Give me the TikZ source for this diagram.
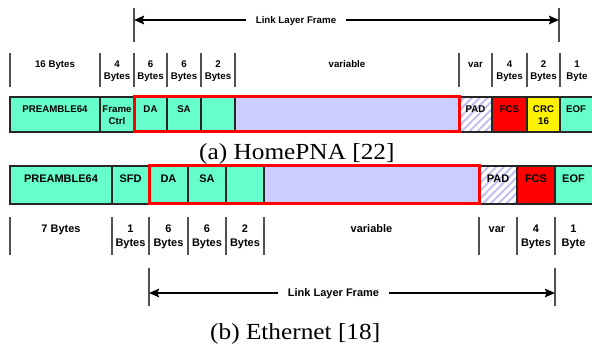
\documentclass[tikz,border=0pt]{standalone}
\usepackage{fontspec}
\setmainfont{Liberation Serif}
\setsansfont{Liberation Sans}
\newfontfamily\capfont[FakeStretch=1.1]{Liberation Serif}
\usetikzlibrary{arrows.meta,patterns.meta}

\definecolor{aqua}{HTML}{66FFCC}
\definecolor{lav}{HTML}{CCCCFF}
\definecolor{hatch}{HTML}{BDBDF2}
\definecolor{tickgray}{HTML}{505050}

% one field of a frame: name, left, right, top, bottom, extra style
\newcommand\fieldbox[6]{%
  \node[cell,#6,minimum width={(#3)-(#2)},minimum height={(#5)-(#4)}] (#1) at (#2,#4) {};}

\tikzset{
  cell/.style={draw=black!85, inner sep=0pt, outer sep=0pt, anchor=north west},
  cellA/.style={cell, line width=1.7pt},
  cellB/.style={cell, line width=1.8pt},
  padfill/.style={pattern={Lines[angle=45,distance=5.5pt,line width=1.9pt]}, pattern color=hatch},
  fA/.style={font=\sffamily\bfseries\fontsize{9.7}{12.5}\selectfont, inner sep=0pt, align=center},
  fB/.style={font=\sffamily\bfseries\fontsize{11}{14}\selectfont, inner sep=0pt, align=center},
  redA/.style={draw=red, line width=3pt},
  redB/.style={draw=red, line width=3pt},
  tick/.style={draw=tickgray, line width=1.1pt},
  arr/.style={draw=black, line width=2pt, -{Stealth[length=10pt,width=8.5pt,inset=1.5pt]}},
  llf/.style={inner xsep=9.5pt, inner ysep=0pt, text height=7pt, text depth=0pt},
  capstyle/.style={font=\capfont\fontsize{23}{26}\selectfont, inner sep=0pt, anchor=base west},
}

\begin{document}
\begin{tikzpicture}[x=1pt, y=-1pt]
\clip (0,0) rectangle (592,352);

% ---------------- (a) HomePNA ----------------
% link layer frame span
\draw[tick] (134,8) -- (134,42);
\draw[tick] (559,8) -- (559,42);
\coordinate (lAl) at (134,20);
\coordinate (lAr) at (559,20);
\node[fA, llf] (llA) at (296,20) {Link Layer Frame};
\draw[arr] (llA.west) -- (lAl);
\draw[arr] (llA.east) -- (lAr);

% field sizes
\foreach \x in {10,100,134,167,201,235,459,492,527,560}
  \draw[tick] (\x,53) -- (\x,87);
\node[fA, anchor=base]  (szA1) at (55,67.5)    {16 Bytes};
\node[fA, anchor=north] (szA2) at (117,60.5)   {4\\Bytes};
\node[fA, anchor=north] (szA3) at (150.5,60.5) {6\\Bytes};
\node[fA, anchor=north] (szA4) at (184,60.5)   {6\\Bytes};
\node[fA, anchor=north] (szA5) at (218,60.5)   {2\\Bytes};
\node[fA, anchor=base]  (szA6) at (347,67.5)   {variable};
\node[fA, anchor=base]  (szA7) at (475.5,67.5) {var};
\node[fA, anchor=north] (szA8) at (509.5,60.5) {4\\Bytes};
\node[fA, anchor=north] (szA9) at (543.5,60.5) {2\\Bytes};
\node[fA, anchor=north] (szA10) at (577,60.5)  {1\\Byte};

% fields
\fieldbox{preA}{10}{100}{97}{132}{cellA,fill=aqua}
\fieldbox{fcA}{100}{134}{97}{132}{cellA,fill=aqua}
\fieldbox{daA}{134}{167}{97}{132}{cellA,fill=aqua}
\fieldbox{saA}{167}{201}{97}{132}{cellA,fill=aqua}
\fieldbox{lenA}{201}{235}{97}{132}{cellA,fill=aqua}
\fieldbox{payA}{235}{459}{97}{132}{cellA,fill=lav}
\fieldbox{padA}{459}{492}{97}{132}{cellA,padfill}
\fieldbox{fcsA}{492}{527}{97}{132}{cellA,fill=red}
\fieldbox{crcA}{527}{560}{97}{132}{cellA,fill=yellow}
\fieldbox{eofA}{560}{600}{97}{132}{cellA,fill=aqua}
\draw[redA] (daA.north west) rectangle (payA.south east);

\node[fA, anchor=north] (tpreA) at ([yshift=-8.5pt]preA.north) {PREAMBLE64};
\node[fA, anchor=north] (tfcA)  at ([yshift=-8.5pt]fcA.north)  {Frame\\Ctrl};
\node[fA, anchor=north] (tdaA)  at ([yshift=-8.5pt]daA.north)  {DA};
\node[fA, anchor=north] (tsaA)  at ([yshift=-8.5pt]saA.north)  {SA};
\node[fA, anchor=north] (tpadA) at ([yshift=-8.5pt]padA.north) {PAD};
\node[fA, anchor=north] (tfcsA) at ([yshift=-8.5pt]fcsA.north) {FCS};
\node[fA, anchor=north] (tcrcA) at ([yshift=-8.5pt]crcA.north) {CRC\\16};
\node[fA, anchor=north] (teofA) at (576,105.5) {EOF};

\node[capstyle] (capA) at (199,159.5) {(a) HomePNA [22]};

% ---------------- (b) Ethernet ----------------
\fieldbox{preB}{10}{112}{166}{204}{cellB,fill=aqua}
\fieldbox{sfdB}{112}{149}{166}{204}{cellB,fill=aqua}
\fieldbox{daB}{149}{188}{166}{204}{cellB,fill=aqua}
\fieldbox{saB}{188}{226}{166}{204}{cellB,fill=aqua}
\fieldbox{lenB}{226}{264}{166}{204}{cellB,fill=aqua}
\fieldbox{payB}{264}{479}{166}{204}{cellB,fill=lav}
\fieldbox{padB}{479}{517}{166}{204}{cellB,padfill}
\fieldbox{fcsB}{517}{555}{166}{204}{cellB,fill=red}
\fieldbox{eofB}{555}{600}{166}{204}{cellB,fill=aqua}
\draw[redB] (daB.north west) rectangle (payB.south east);

\node[fB, anchor=north] (tpreB) at ([yshift=-9pt]preB.north) {PREAMBLE64};
\node[fB, anchor=north] (tsfdB) at ([yshift=-9pt]sfdB.north) {SFD};
\node[fB, anchor=north] (tdaB)  at ([yshift=-9pt]daB.north)  {DA};
\node[fB, anchor=north] (tsaB)  at ([yshift=-9pt]saB.north)  {SA};
\node[fB, anchor=north] (tpadB) at ([yshift=-9pt]padB.north) {PAD};
\node[fB, anchor=north] (tfcsB) at ([yshift=-9pt]fcsB.north) {FCS};
\node[fB, anchor=north] (teofB) at (573.5,175) {EOF};

% field sizes
\foreach \x in {10,112,149,188,226,264,479,517,555}
  \draw[tick] (\x,217) -- (\x,255);
\node[fB, anchor=base]  (szB1) at (61,233)    {7 Bytes};
\node[fB, anchor=north] (szB2) at (130.5,225) {1\\Bytes};
\node[fB, anchor=north] (szB3) at (168.5,225) {6\\Bytes};
\node[fB, anchor=north] (szB4) at (207,225)   {6\\Bytes};
\node[fB, anchor=north] (szB5) at (245,225)   {2\\Bytes};
\node[fB, anchor=base]  (szB6) at (371.5,233) {variable};
\node[fB, anchor=base]  (szB7) at (497,233)   {var};
\node[fB, anchor=north] (szB8) at (536,225)   {4\\Bytes};
\node[fB, anchor=north] (szB9) at (573.5,225) {1\\Byte};

% link layer frame span
\draw[tick] (149,268) -- (149,306);
\draw[tick] (555,268) -- (555,306);
\coordinate (lBl) at (149,293);
\coordinate (lBr) at (555,293);
\node[fB, llf, text height=8pt] (llB) at (333.5,293) {Link Layer Frame};
\draw[arr] (llB.west) -- (lBl);
\draw[arr] (llB.east) -- (lBr);

\node[capstyle] (capB) at (210,340) {(b) Ethernet [18]};
\end{tikzpicture}
\end{document}
